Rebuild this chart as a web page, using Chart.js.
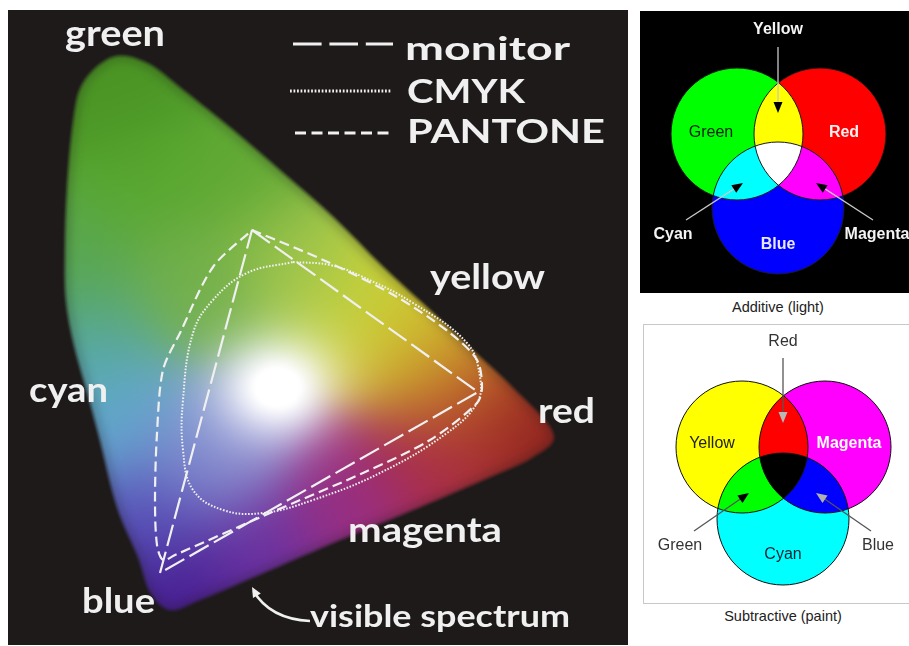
<!DOCTYPE html>
<html>
<head>
<meta charset="utf-8">
<script src="https://cdn.jsdelivr.net/npm/chart.js@4.4.1/dist/chart.umd.min.js"></script>
<style>
  body { margin: 0; background: #fff; width: 909px; height: 646px; overflow: hidden; position: relative;
         font-family: "Liberation Sans", Arial, sans-serif; }
  #left { position: absolute; left: 8px; top: 10px; }
  #add { position: absolute; left: 640px; top: 11px; }
  #subBox { position: absolute; left: 643px; top: 324px; width: 270px; height: 278px;
            border: 1px solid #c8c8c8; border-right: none; }
  #sub { position: absolute; left: 0; top: 0; }
  .cap { position: absolute; width: 200px; text-align: center; font-size: 14.5px; line-height: 16px; color: #222; }
</style>
</head>
<body>
<canvas id="left" width="620" height="635"></canvas>
<canvas id="add" width="269" height="282"></canvas>
<div id="subBox"><canvas id="sub" width="265" height="278"></canvas></div>
<div class="cap" style="left:678px; top:299px">Additive (light)</div>
<div class="cap" style="left:683px; top:608px">Subtractive (paint)</div>

<script>
// ---- gamut diagram (diagram units) ----
const locusX = [0.105, 0.139, 0.175, 0.225, 0.275, 0.325, 0.375, 0.425, 0.462, 0.502, 0.545,
                0.525, 0.475, 0.412, 0.332, 0.239, 0.192, 0.162, 0.142, 0.130, 0.109, 0.092,
                0.080, 0.066, 0.058, 0.057, 0.059, 0.065, 0.075];
const locusY = [0.588, 0.582, 0.555, 0.515, 0.472, 0.428, 0.378, 0.332, 0.297, 0.260, 0.212,
                0.188, 0.165, 0.138, 0.105, 0.065, 0.045, 0.035, 0.053, 0.088, 0.138, 0.205,
                0.250, 0.300, 0.345, 0.395, 0.455, 0.522, 0.562];

const monitorX = [0.244, 0.470, 0.152];
const monitorY = [0.415, 0.253, 0.072];

const cmykX = [0.285, 0.322, 0.355, 0.405, 0.459, 0.472, 0.469, 0.439, 0.372, 0.305, 0.255,
               0.215, 0.185, 0.175, 0.175, 0.185, 0.205, 0.239];
const cmykY = [0.383, 0.380, 0.368, 0.342, 0.302, 0.268, 0.242, 0.212, 0.172, 0.145, 0.132,
               0.135, 0.155, 0.195, 0.245, 0.312, 0.345, 0.372];

const pantoneX = [0.244, 0.322, 0.389, 0.442, 0.469, 0.474, 0.469, 0.422, 0.355, 0.262, 0.167,
                  0.155, 0.149, 0.147, 0.149, 0.155, 0.172, 0.205];
const pantoneY = [0.415, 0.382, 0.348, 0.312, 0.285, 0.258, 0.242, 0.205, 0.172, 0.132, 0.090,
                  0.085, 0.100, 0.145, 0.212, 0.275, 0.312, 0.378];

// colour field inside the locus
const fieldX = [0.112, 0.142, 0.242, 0.182, 0.292, 0.362, 0.417, 0.452, 0.492, 0.532,
                0.432, 0.342, 0.252, 0.167, 0.137, 0.202, 0.102, 0.077, 0.067];
const fieldY = [0.555, 0.465, 0.475, 0.365, 0.395, 0.360, 0.315, 0.270, 0.230, 0.210,
                0.175, 0.130, 0.085, 0.047, 0.125, 0.190, 0.225, 0.300, 0.375];
const fieldColors = ['#4a9424', '#58a830', '#60a834', '#74b04c', '#9cc44e', '#c6d23a', '#d2c42e',
                     '#c6802a', '#b03426', '#801c1c', '#aa2c48', '#982e82', '#6a30a0', '#44188c',
                     '#5650b8', '#8890d0', '#62a8d0', '#56a8a4', '#58a64a'];
const whitePoint = [0.269, 0.258];

// ---- Venn diagrams ----
const addNames = ['Green', 'Red', 'Blue'];
const addX = [0.97, 1.80, 1.38];
const addY = [1.59, 1.59, 0.85];
const addColors = ['#00ff00', '#ff0000', '#0000ff'];

const subNames = ['Yellow', 'Magenta', 'Cyan'];
const subX = [0.98, 1.81, 1.39];
const subY = [1.56, 1.56, 0.84];
const subColors = ['#ffff00', '#ff00ff', '#00ffff'];

const CIRCLE_R = 0.66;
const BG_DARK = '#1e1a1a';
const INK = '#f0f0f0';

function pts(xs, ys, close) {
  const p = xs.map((x, i) => ({ x: x, y: ys[i] }));
  if (close) p.push({ x: xs[0], y: ys[0] });
  return p;
}

function hexRgb(h) {
  return [parseInt(h.slice(1, 3), 16), parseInt(h.slice(3, 5), 16), parseInt(h.slice(5, 7), 16)];
}

function smoothClosed(ctx, p, t) {
  const n = p.length;
  ctx.moveTo(p[0][0], p[0][1]);
  for (let i = 0; i < n; i++) {
    const p0 = p[(i - 1 + n) % n], p1 = p[i], p2 = p[(i + 1) % n], p3 = p[(i + 2) % n];
    ctx.bezierCurveTo(p1[0] + (p2[0] - p0[0]) * t, p1[1] + (p2[1] - p0[1]) * t,
                      p2[0] - (p3[0] - p1[0]) * t, p2[1] - (p3[1] - p1[1]) * t, p2[0], p2[1]);
  }
  ctx.closePath();
}

function arrow(ctx, x1, y1, x2, y2, line, head, len, half) {
  const a = Math.atan2(y2 - y1, x2 - x1);
  ctx.strokeStyle = line;
  ctx.lineWidth = 1.3;
  ctx.beginPath();
  ctx.moveTo(x1, y1);
  ctx.lineTo(x2 - Math.cos(a) * len * 0.6, y2 - Math.sin(a) * len * 0.6);
  ctx.stroke();
  ctx.fillStyle = head;
  ctx.beginPath();
  ctx.moveTo(x2, y2);
  ctx.lineTo(x2 - Math.cos(a) * len + Math.sin(a) * half, y2 - Math.sin(a) * len - Math.cos(a) * half);
  ctx.lineTo(x2 - Math.cos(a) * len - Math.sin(a) * half, y2 - Math.sin(a) * len + Math.cos(a) * half);
  ctx.closePath();
  ctx.fill();
}

const bgPlugin = {
  id: 'bg',
  beforeDraw(chart, args, opts) {
    const c = chart.ctx;
    c.save();
    c.fillStyle = opts.color;
    c.fillRect(0, 0, chart.width, chart.height);
    c.restore();
  }
};

// paints the colours of the visible spectrum inside dataset 0
const spectrumPlugin = {
  id: 'spectrum',
  beforeDatasetsDraw(chart) {
    const { ctx, scales: { x, y } } = chart;
    const outline = chart.getDatasetMeta(0).data.map(p => [p.x, p.y]);
    const W = chart.width, H = chart.height;
    const off = document.createElement('canvas');
    off.width = W; off.height = H;
    const o = off.getContext('2d');
    const img = o.createImageData(W, H);
    const anchors = fieldX.map((v, i) => [x.getPixelForValue(v), y.getPixelForValue(fieldY[i]), hexRgb(fieldColors[i])]);
    const wx = x.getPixelForValue(whitePoint[0]), wy = y.getPixelForValue(whitePoint[1]);
    const xs = outline.map(p => p[0]), ys = outline.map(p => p[1]);
    const x0 = Math.max(0, Math.floor(Math.min(...xs)) - 6), x1 = Math.min(W, Math.ceil(Math.max(...xs)) + 6);
    const y0 = Math.max(0, Math.floor(Math.min(...ys)) - 6), y1 = Math.min(H, Math.ceil(Math.max(...ys)) + 6);
    const s2 = 2 * 45 * 45;
    const d2 = new Array(anchors.length);
    for (let py = y0; py < y1; py++) {
      for (let px = x0; px < x1; px++) {
        let dmin = Infinity;
        for (let i = 0; i < anchors.length; i++) {
          const dx = px - anchors[i][0], dy = py - anchors[i][1];
          d2[i] = dx * dx + dy * dy;
          if (d2[i] < dmin) dmin = d2[i];
        }
        let r = 0, g = 0, b = 0, w = 0;
        for (let i = 0; i < anchors.length; i++) {
          const k = Math.exp(-(d2[i] - dmin) / s2);
          const c = anchors[i][2];
          r += k * c[0]; g += k * c[1]; b += k * c[2]; w += k;
        }
        r /= w; g /= w; b /= w;
        const gx = (px - wx) / 42, gy = (py - wy) / 36;
        const k = Math.min(1, 1.15 * Math.exp(-(gx * gx + gy * gy) / 2));
        const idx = (py * W + px) * 4;
        img.data[idx] = r + (255 - r) * k;
        img.data[idx + 1] = g + (255 - g) * k;
        img.data[idx + 2] = b + (255 - b) * k;
        img.data[idx + 3] = 255;
      }
    }
    o.putImageData(img, 0, 0);
    o.globalCompositeOperation = 'destination-in';
    o.beginPath();
    smoothClosed(o, outline, 1 / 6);
    o.fill();

    ctx.save();
    ctx.filter = 'blur(1.5px)';
    ctx.drawImage(off, 0, 0);
    ctx.restore();

    // soft dark rim
    ctx.save();
    ctx.beginPath();
    smoothClosed(ctx, outline, 1 / 6);
    ctx.clip();
    ctx.filter = 'blur(5px)';
    ctx.strokeStyle = 'rgba(30,22,22,0.25)';
    ctx.lineWidth = 10;
    ctx.beginPath();
    smoothClosed(ctx, outline, 1 / 6);
    ctx.stroke();
    ctx.restore();
  }
};

// words of the gamut diagram: [text, left, right, baseline, font size]
const leftWords = [
  ['green', 0.057, 0.157, 0.599, 36],
  ['monitor', 0.397, 0.562, 0.585, 33],
  ['CMYK', 0.399, 0.517, 0.542, 33],
  ['PANTONE', 0.399, 0.597, 0.502, 33],
  ['yellow', 0.422, 0.537, 0.356, 34],
  ['cyan', 0.021, 0.100, 0.243, 34],
  ['red', 0.530, 0.587, 0.222, 34],
  ['magenta', 0.340, 0.494, 0.103, 34],
  ['blue', 0.074, 0.147, 0.032, 34],
  ['visible spectrum', 0.302, 0.562, 0.018, 30]
];
// legend swatches: [dataset index, left, right, y, dash stretch]
const legendLines = [[1, 0.285, 0.385, 0.601, 1.3], [2, 0.282, 0.384, 0.554, 1.1], [3, 0.287, 0.385, 0.512, 1.1]];

const leftLabelPlugin = {
  id: 'leftLabels',
  afterDatasetsDraw(chart) {
    const { ctx, scales: { x, y } } = chart;
    ctx.save();
    ctx.fillStyle = INK;
    ctx.textBaseline = 'alphabetic';
    leftWords.forEach(([t, l, r, base, size]) => {
      ctx.font = '700 ' + size + 'px Lato, "Open Sans", sans-serif';
      const w = ctx.measureText(t).width;
      const left = x.getPixelForValue(l), right = x.getPixelForValue(r);
      ctx.save();
      ctx.translate(left, y.getPixelForValue(base));
      ctx.scale((right - left) / w, 1);
      ctx.fillText(t, 0, 0);
      ctx.restore();
    });
    ctx.strokeStyle = INK;
    ctx.lineWidth = 3;
    legendLines.forEach(([di, l, r, yy, k]) => {
      ctx.setLineDash(chart.data.datasets[di].borderDash.map(v => v * k));
      ctx.beginPath();
      ctx.moveTo(x.getPixelForValue(l), y.getPixelForValue(yy));
      ctx.lineTo(x.getPixelForValue(r), y.getPixelForValue(yy));
      ctx.stroke();
    });
    ctx.setLineDash([]);
    // arrow to the edge of the visible spectrum
    const sx = x.getPixelForValue(0.302), sy = y.getPixelForValue(0.024);
    const cx = x.getPixelForValue(0.262), cy = y.getPixelForValue(0.026);
    const ex = x.getPixelForValue(0.244), ey = y.getPixelForValue(0.058);
    ctx.lineWidth = 2.5;
    ctx.beginPath();
    ctx.moveTo(sx, sy);
    ctx.quadraticCurveTo(cx, cy, ex + 1.5, ey + 4);
    ctx.stroke();
    arrow(ctx, cx, cy, ex, ey, 'rgba(0,0,0,0)', INK, 10, 4.5);
    ctx.restore();
  }
};

const common = {
  responsive: false,
  animation: false,
  events: [],
  layout: { padding: 0 },
  plugins: { legend: { display: false }, tooltip: { enabled: false } }
};

new Chart(document.getElementById('left'), {
  type: 'scatter',
  data: {
    datasets: [
      { label: 'visible spectrum', data: pts(locusX, locusY, false), showLine: false, pointRadius: 0 },
      { label: 'monitor', data: pts(monitorX, monitorY, true), showLine: true, pointRadius: 0,
        borderColor: INK, borderWidth: 2.2, borderDash: [22, 6], tension: 0 },
      { label: 'CMYK', data: pts(cmykX, cmykY, true), showLine: true, pointRadius: 0,
        borderColor: INK, borderWidth: 2, borderDash: [1.6, 1.6], tension: 0.4 },
      { label: 'PANTONE', data: pts(pantoneX, pantoneY, true), showLine: true, pointRadius: 0,
        borderColor: INK, borderWidth: 2.2, borderDash: [10, 5], tension: 0.3 }
    ]
  },
  options: Object.assign({}, common, {
    plugins: Object.assign({}, common.plugins, { bg: { color: BG_DARK } }),
    scales: {
      x: { type: 'linear', min: 0, max: 0.62, display: false },
      y: { type: 'linear', min: 0, max: 0.635, display: false }
    }
  }),
  plugins: [bgPlugin, spectrumPlugin, leftLabelPlugin]
});

// ---- Venn charts ----
const blendPlugin = {
  id: 'blend',
  beforeDatasetDraw(chart, args) {
    const ds = chart.data.datasets[args.index];
    if (ds.blend) { chart.ctx.save(); chart.ctx.globalCompositeOperation = ds.blend; }
  },
  afterDatasetDraw(chart, args) {
    if (chart.data.datasets[args.index].blend) chart.ctx.restore();
  }
};

function notesPlugin(words, arrows) {
  return {
    id: 'notes',
    afterDatasetsDraw(chart) {
      const { ctx, scales: { x, y } } = chart;
      ctx.save();
      arrows.forEach(a => arrow(ctx, x.getPixelForValue(a[0]), y.getPixelForValue(a[1]),
                                x.getPixelForValue(a[2]), y.getPixelForValue(a[3]), a[4], a[5], 11, 4.5));
      ctx.textAlign = 'center';
      ctx.textBaseline = 'middle';
      words.forEach(w => {
        ctx.font = w[3];
        ctx.fillStyle = w[4];
        ctx.fillText(w[0], x.getPixelForValue(w[1]), y.getPixelForValue(w[2]));
      });
      ctx.restore();
    }
  };
}

function radiusPx(c) {
  const s = c.chart.scales.x;
  return s.getPixelForValue(CIRCLE_R) - s.getPixelForValue(0);
}

function venn(id, names, xs, ys, colors, blend, bg, edge, maxX, maxY, words, arrows) {
  const datasets = [{ label: 'outline', data: pts(xs, ys, false), pointRadius: radiusPx,
                      backgroundColor: 'rgba(0,0,0,0)', borderColor: edge, borderWidth: 1 }];
  names.forEach((n, i) => datasets.push({ label: n, data: [{ x: xs[i], y: ys[i] }], pointRadius: radiusPx,
                                          backgroundColor: colors[i], borderWidth: 0, blend: blend }));
  new Chart(document.getElementById(id), {
    type: 'scatter',
    data: { datasets: datasets },
    options: Object.assign({}, common, {
      plugins: Object.assign({}, common.plugins, { bg: { color: bg } }),
      scales: {
        x: { type: 'linear', min: 0, max: maxX, display: false },
        y: { type: 'linear', min: 0, max: maxY, display: false }
      }
    }),
    plugins: [bgPlugin, blendPlugin, notesPlugin(words, arrows)]
  });
}

const B16 = 'bold 16px "Liberation Sans", Arial, sans-serif';
const R16 = '16px "Liberation Sans", Arial, sans-serif';

venn('add', addNames, addX, addY, addColors, 'lighter', '#000000', '#1a1a1a', 2.69, 2.82,
  [['Yellow', 1.38, 2.63, B16, '#f4f4f4'], ['Green', 0.71, 1.60, R16, '#0a200a'],
   ['Red', 2.04, 1.60, B16, '#fff0f0'], ['Blue', 1.38, 0.48, B16, '#e8e8ff'],
   ['Cyan', 0.33, 0.58, B16, '#f4f4f4'], ['Magenta', 2.37, 0.58, B16, '#f4f4f4']],
  [[1.38, 2.46, 1.38, 1.80, '#c8c8c8', '#000'], [0.46, 0.73, 1.03, 1.10, '#c8c8c8', '#000'],
   [2.33, 0.73, 1.76, 1.10, '#c8c8c8', '#000']]);

venn('sub', subNames, subX, subY, subColors, 'multiply', '#ffffff', '#111111', 2.65, 2.78,
  [['Red', 1.39, 2.61, R16, '#333'], ['Yellow', 0.68, 1.59, R16, '#222'],
   ['Magenta', 2.05, 1.59, B16, '#ffffff'], ['Cyan', 1.39, 0.48, R16, '#112233'],
   ['Green', 0.36, 0.57, R16, '#333'], ['Blue', 2.34, 0.57, R16, '#333']],
  [[1.39, 2.45, 1.39, 1.80, '#555', '#b8b8b8'], [0.50, 0.72, 1.05, 1.10, '#555', '#000'],
   [2.27, 0.72, 1.72, 1.10, '#555', '#b0b0b0']]);
</script>
</body>
</html>
